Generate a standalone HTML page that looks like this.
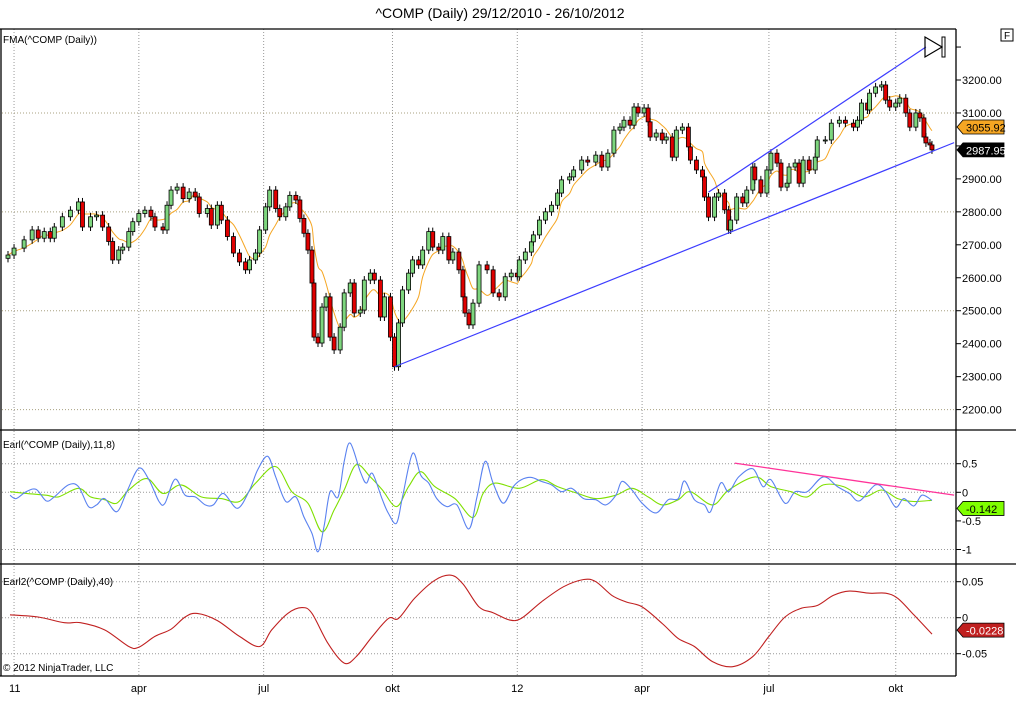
<!DOCTYPE html>
<html><head><meta charset="utf-8"><style>
html,body{margin:0;padding:0;background:#fff;}
svg{display:block;font-family:"Liberation Sans",Arial,sans-serif;}
</style></head><body>
<svg id="chart" width="1016" height="720" viewBox="0 0 1016 720" xmlns="http://www.w3.org/2000/svg">
<rect x="0" y="0" width="1016" height="720" fill="#fff"/>
<text x="500" y="18" text-anchor="middle" font-size="14" fill="#000">^COMP (Daily)  29/12/2010 - 26/10/2012</text>
<g id="grid"></g>
<g id="main"></g>
<g id="osc"></g>
<g id="osc2"></g>
<g id="axes"></g>
<text x="3" y="43" font-size="10" fill="#000">FMA(^COMP (Daily))</text>
<text x="3" y="448" font-size="10" fill="#000">Earl(^COMP (Daily),11,8)</text>
<text x="3" y="585" font-size="10" fill="#000">Earl2(^COMP (Daily),40)</text>
<text x="3" y="671" font-size="10" fill="#000">© 2012 NinjaTrader, LLC</text>
<g><rect x="1001" y="29" width="12" height="12" fill="#fff" stroke="#000"/><text x="1004" y="39" font-size="10">F</text></g>
<g><polygon points="925,37 942,47 925,57" fill="none" stroke="#000" stroke-width="1.2"/><rect x="942" y="37" width="3" height="20" fill="none" stroke="#000"/></g>
</svg>
<script>
// ---- data ----
const priceDays=[0,3,8,12,15,18,21,23,27,31,35,37,41,44,47,50,52,55,57,60,62,65,68,71,73,77,79,81,84,87,90,93,95,99,101,104,106,109,112,115,118,120,123,125,128,130,133,135,138,140,143,145,147,149,151,152,154,156,158,160,162,165,167,170,172,175,177,180,182,185,187,190,192,194,196,199,201,204,206,209,211,214,216,219,221,224,226,227,229,231,234,238,241,244,247,250,253,254,257,260,261,264,267,270,273,275,279,281,285,288,292,295,298,301,304,306,309,311,313,316,318,319,322,325,327,330,332,335,338,339,342,345,346,348,351,353,356,358,359,362,365,367,370,371,374,377,379,382,384,387,388,391,393,395,398,401,402,406,409,413,416,420,422,424,427,428,431,434,436,438,441,443,446,448,451,453,455,456,458,459];
const closes=[2669,2690,2715,2745,2720,2740,2720,2754,2785,2805,2830,2754,2785,2790,2754,2710,2654,2684,2693,2740,2770,2795,2805,2785,2754,2745,2820,2866,2875,2840,2860,2845,2795,2810,2760,2820,2775,2725,2675,2648,2624,2654,2675,2745,2815,2866,2810,2785,2815,2850,2836,2780,2735,2684,2584,2420,2402,2511,2542,2420,2381,2450,2554,2584,2493,2502,2593,2614,2593,2481,2542,2420,2330,2463,2563,2614,2654,2639,2684,2740,2693,2684,2725,2654,2678,2624,2542,2493,2457,2523,2639,2624,2554,2542,2603,2614,2603,2654,2678,2709,2730,2775,2800,2820,2857,2897,2906,2927,2957,2951,2972,2936,2978,3048,3057,3078,3063,3118,3100,3115,3073,3027,3039,3018,3027,2966,3048,3057,2997,2957,2927,2906,2845,2784,2845,2857,2806,2745,2775,2845,2827,2866,2936,2897,2857,2927,2978,2948,2875,2887,2936,2948,2887,2957,2927,2966,3018,3018,3069,3078,3069,3057,3078,3130,3109,3160,3179,3185,3139,3118,3130,3145,3100,3057,3100,3085,3027,3009,3003,2988];
const priceTicks=[3200,3100,3000,2900,2800,2700,2600,2500,2400,2300,2200];
const priceGrid=[3100,2800,2500,2200];
const monthDays=[3,65,127,191,253,315,378,441];
const monthLabels=["11","apr","jul","okt","12","apr","jul","okt"];
const blueDays=[1,4,9,14,19,23,30,35,40,44,48,54,59,65,70,75,78,83,88,93,98,102,107,114,120,124,129,133,138,143,147,151,154,157,160,164,167,170,175,178,181,186,189,193,196,201,205,209,213,218,223,229,233,237,241,246,251,255,260,265,270,275,280,286,292,297,302,305,310,315,322,328,333,336,341,346,349,354,358,363,370,375,379,386,391,397,405,412,418,423,431,436,441,445,450,454,459];
const blueVals=[-0.05,-0.11,0.01,0.05,-0.15,-0.08,0.13,0.10,-0.25,-0.22,-0.11,-0.34,0.01,0.42,0.22,-0.16,-0.19,0.23,-0.05,-0.08,-0.22,-0.22,-0.02,-0.28,0.04,0.39,0.63,0.27,-0.16,-0.08,-0.43,-0.72,-1.04,-0.60,0.01,-0.08,0.54,0.86,0.36,0.16,0.33,-0.13,-0.37,-0.54,-0.08,0.68,0.30,0.16,-0.11,-0.25,-0.22,-0.64,-0.08,0.54,0.16,-0.19,0.10,0.22,0.26,0.19,0.13,0.01,0.07,-0.11,-0.13,-0.22,-0.05,0.19,0.04,-0.19,-0.36,-0.13,-0.11,0.20,-0.13,-0.22,-0.34,0.16,0.01,0.27,0.41,0.10,0.22,-0.19,0.01,0.01,0.27,0.10,-0.02,-0.15,0.13,0.01,-0.26,-0.11,-0.24,-0.05,-0.142];
const greenDays=[1,9,19,25,35,41,48,54,60,69,77,86,96,106,115,123,133,141,149,156,162,167,173,180,186,193,199,205,212,222,231,236,242,254,265,273,283,292,302,310,318,325,333,339,350,358,371,379,389,397,405,415,425,434,442,450,459];
const greenVals=[0.01,-0.02,-0.05,-0.08,0.07,-0.08,-0.13,-0.19,0.04,0.24,-0.02,0.13,-0.08,-0.11,-0.16,0.16,0.45,0.01,-0.19,-0.69,-0.31,0.04,0.48,0.27,0.04,-0.25,0.10,0.36,0.10,-0.11,-0.44,-0.02,0.16,0.07,0.22,0.10,-0.02,-0.11,-0.05,0.07,-0.08,-0.22,-0.13,0.01,-0.22,0.04,0.27,0.10,0.01,-0.08,0.13,0.10,-0.08,0.04,-0.11,-0.16,-0.14];
const oscTicks=[0.5,0,-0.5,-1];
const oscTickLabels=["0.5","0","-0.5","-1"];
const redDays=[1,15,28,36,48,60,65,73,81,88,94,104,115,125,131,139,146,151,159,167,173,181,189,194,202,212,220,226,234,241,249,255,265,276,286,292,300,307,315,325,333,341,350,360,370,378,386,394,402,410,418,428,436,442,450,459];
const redVals=[0.004,0.001,-0.007,-0.007,-0.017,-0.040,-0.041,-0.026,-0.016,0.001,0.006,-0.004,-0.026,-0.040,-0.017,0.006,0.014,0.006,-0.036,-0.063,-0.054,-0.026,-0.001,-0.001,0.027,0.052,0.059,0.047,0.015,0.007,-0.003,-0.001,0.022,0.043,0.053,0.050,0.031,0.022,0.015,-0.008,-0.029,-0.040,-0.061,-0.068,-0.054,-0.026,0.001,0.013,0.017,0.031,0.037,0.034,0.034,0.027,0.004,-0.0228];
const osc2Ticks=[0.05,0,-0.05];
const osc2TickLabels=["0.05","0","-0.05"];
const lowerTrend=[[192,2330],[470,3010]];
const upperTrend=[[348,2860],[456,3300]];
const pinkTrend=[[361,0.51],[470,-0.05]];

// ---- scales ----
const NS="http://www.w3.org/2000/svg";
const X=d=>8+d*2.013;
const YP=p=>80+(3200-p)*0.3296;
const YO=v=>492.3-v*57.2;
const YO2=v=>617.7-v*720;
function mk(tag,attrs,parent){const e=document.createElementNS(NS,tag);for(const k in attrs)e.setAttribute(k,attrs[k]);parent.appendChild(e);return e;}
const grid=document.getElementById('grid'),main=document.getElementById('main'),osc=document.getElementById('osc'),osc2=document.getElementById('osc2'),axes=document.getElementById('axes');

function smoothPath(pts){
  let d='M'+pts[0][0].toFixed(1)+','+pts[0][1].toFixed(1);
  for(let i=0;i<pts.length-1;i++){
    const p0=pts[i-1]||pts[i],p1=pts[i],p2=pts[i+1],p3=pts[i+2]||p2;
    const c1=[p1[0]+(p2[0]-p0[0])/6,p1[1]+(p2[1]-p0[1])/6];
    const c2=[p2[0]-(p3[0]-p1[0])/6,p2[1]-(p3[1]-p1[1])/6];
    d+=' C'+c1.map(v=>v.toFixed(1)).join(',')+' '+c2.map(v=>v.toFixed(1)).join(',')+' '+p2[0].toFixed(1)+','+p2[1].toFixed(1);
  }
  return d;
}

// vertical grid
monthDays.forEach((d,i)=>{
  const l=mk('line',{x1:X(d),x2:X(d),y1:29,y2:676,stroke:'#999','stroke-dasharray':'1,2'},grid);
  
  
  const t=mk('text',{x:X(d),y:692,'font-size':11,'text-anchor':i==0?'start':'middle'},axes);
  if(i==0)t.setAttribute('x',X(d)-5);
  t.textContent=monthLabels[i];
  
  
});
priceGrid.forEach(p=>{
  const l=mk('line',{x1:2,x2:956,y1:YP(p),y2:YP(p),stroke:'#a8a080','stroke-dasharray':'1,2'},grid);
  
  
});
[0.5,0,-1].forEach(v=>{
  const l=mk('line',{x1:2,x2:956,y1:YO(v),y2:YO(v),stroke:'#999','stroke-dasharray':'1,2'},grid);
  
  
});
osc2Ticks.forEach(v=>{
  const l=mk('line',{x1:2,x2:956,y1:YO2(v),y2:YO2(v),stroke:'#999','stroke-dasharray':'1,2'},grid);
  
  
});

// moving average (14 trading days)
let maPts=[];
for(let i=0;i<closes.length;i++){let s=0,n=0;for(let j=i;j>=0&&priceDays[i]-priceDays[j]<14;j--){s+=closes[j];n++;}maPts.push([X(priceDays[i]),YP(s/n)]);}
const ma=mk('path',{d:smoothPath(maPts),fill:'none',stroke:'#f5a623','stroke-width':1},main);



// candles
for(let i=0;i<closes.length;i++){
  const o=i?closes[i-1]:closes[0]-10,c=closes[i],x=X(priceDays[i]);
  const top=YP(Math.max(o,c)),bot=YP(Math.min(o,c));
  const w=mk('line',{x1:x,x2:x,y1:top-4,y2:bot+4,stroke:'#000'},main);
  
  
  const b=mk('rect',{x:x-2,y:top,width:4,height:Math.max(1,bot-top),fill:c>=o?'#7ed67e':'#e00000',stroke:'#000','stroke-width':0.8},main);
  
  
}
// trend lines
[lowerTrend,upperTrend].forEach(t=>{
  const l=mk('line',{x1:X(t[0][0]),y1:YP(t[0][1]),x2:X(t[1][0]),y2:YP(t[1][1]),stroke:'#3c3cff','stroke-width':1.2},main);
  
  
});

// oscillators
function curve(days,vals,ys,color,parent,name){
  const e=mk('path',{d:smoothPath(days.map((d,i)=>[X(d),ys(vals[i])])),fill:'none',stroke:color,'stroke-width':1.1},parent);
  
  
}
curve(greenDays,greenVals,YO,'#7fe000',osc,'earl-signal-line');
curve(blueDays,blueVals,YO,'#5a82f0',osc,'earl-line');
const pk=mk('line',{x1:X(pinkTrend[0][0]),y1:YO(pinkTrend[0][1]),x2:X(pinkTrend[1][0]),y2:YO(pinkTrend[1][1]),stroke:'#ff3399','stroke-width':1.3},osc);


curve(redDays,redVals,YO2,'#c02020',osc2,'earl2-line');

// frames
[[0,29,956,29],[0,430,1016,430],[0,564,1016,564],[0,676,956,676],[956,29,956,676],[1,29,1,676]].forEach(a=>{
  const l=mk('line',{x1:a[0],y1:a[1],x2:a[2],y2:a[3],stroke:'#000','stroke-width':1.3},axes);
  
  
});
// right axes
function tick(y,label,name){
  const l=mk('line',{x1:956,x2:961,y1:y,y2:y,stroke:'#000'},axes);
  
  
  if(label!==null){const t=mk('text',{x:962,y:y+4,'font-size':11},axes);t.textContent=label;
  
  }
}
tick(YP(3300),null,'price-axis');
priceTicks.forEach(p=>tick(YP(p),p.toFixed(2),'price-axis'));
oscTicks.forEach((v,i)=>tick(YO(v),oscTickLabels[i],'earl-axis'));
osc2Ticks.forEach((v,i)=>tick(YO2(v),osc2TickLabels[i],'earl2-axis'));
// badges
function badge(y,txt,bg,fg,name){
  const g=mk('g',{},axes);
  
  
  mk('polygon',{points:`957,${y} 963,${y-7} 1004,${y-7} 1004,${y+7} 963,${y+7}`,fill:bg,stroke:'#000','stroke-width':0.8},g);
  const t=mk('text',{x:966,y:y+4.5,'font-size':11,fill:fg},g);t.textContent=txt;
}
badge(127,'3055.92','#f5a623','#000','fma-value-badge');
badge(YP(closes[closes.length-1]),closes[closes.length-1]===2988?'2987.95':String(closes[closes.length-1]),'#000','#fff','price-value-badge');
badge(YO(blueVals[blueVals.length-1])+8,'-0.142','#7fff00','#000','earl-value-badge');
badge(YO2(redVals[redVals.length-1])-4,'-0.0228','#c02020','#fff','earl2-value-badge');
</script>
</body></html>
